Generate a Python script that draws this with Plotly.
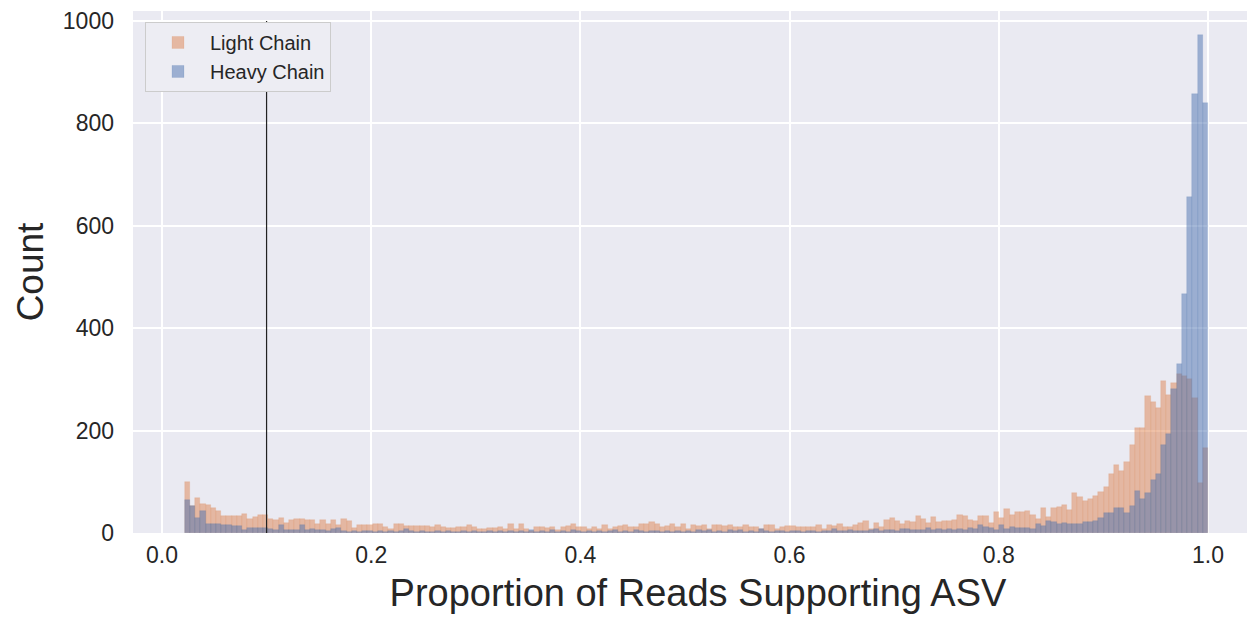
import numpy as np
import plotly.graph_objects as go

# Histogram bins (shared by both series)
BIN_START = 0.0217
BIN_END = 1.0
N_BINS = 196

light_chain = [
    100, 52, 69, 56, 55, 48, 42, 34, 33, 33,
    33, 38, 27, 31, 36, 36, 28, 25, 29, 19,
    25, 27, 27, 25, 26, 17, 25, 18, 25, 16,
    27, 23, 10, 15, 16, 15, 17, 18, 12, 8,
    17, 18, 13, 13, 13, 13, 13, 12, 16, 12,
    10, 10, 12, 12, 16, 12, 8, 7, 10, 10,
    12, 8, 17, 8, 18, 8, 4, 11, 11, 9,
    11, 6, 12, 14, 18, 12, 11, 8, 11, 8,
    16, 8, 11, 14, 15, 12, 11, 18, 18, 22,
    17, 12, 14, 18, 12, 18, 8, 16, 14, 16,
    8, 15, 15, 14, 15, 12, 11, 15, 12, 11,
    8, 15, 15, 8, 12, 14, 14, 12, 12, 12,
    11, 15, 8, 15, 14, 18, 12, 11, 15, 20,
    24, 8, 19, 11, 26, 29, 24, 18, 24, 22,
    33, 28, 19, 32, 22, 24, 24, 26, 35, 33,
    26, 24, 34, 33, 19, 41, 29, 46, 35, 41,
    41, 42, 35, 28, 49, 31, 49, 51, 54, 44,
    78, 71, 62, 67, 72, 81, 89, 115, 132, 122,
    139, 171, 205, 205, 267, 255, 245, 297, 270, 292,
    310, 306, 300, 264, 98, 166,
]

heavy_chain = [
    65, 53, 29, 42, 17, 18, 18, 16, 15, 13,
    13, 6, 10, 10, 10, 10, 8, 5, 15, 6,
    6, 6, 15, 6, 8, 5, 5, 4, 8, 10,
    3, 2, 3, 2, 4, 3, 2, 3, 2, 3,
    2, 3, 8, 3, 2, 3, 2, 2, 3, 2,
    3, 2, 2, 3, 2, 3, 2, 2, 3, 2,
    3, 2, 4, 2, 3, 2, 6, 2, 3, 2,
    6, 2, 3, 2, 6, 3, 2, 3, 2, 3,
    2, 3, 6, 2, 3, 2, 5, 3, 2, 3,
    4, 2, 3, 2, 3, 2, 3, 2, 6, 3,
    5, 2, 3, 2, 6, 3, 5, 2, 3, 2,
    7, 3, 2, 3, 3, 2, 4, 3, 2, 3,
    3, 2, 3, 3, 7, 3, 4, 6, 3, 4,
    3, 5, 8, 4, 6, 5, 4, 7, 8, 5,
    6, 5, 10, 6, 7, 5, 7, 6, 8, 6,
    10, 7, 15, 11, 9, 6, 15, 8, 12, 10,
    10, 10, 8, 18, 13, 23, 21, 17, 19, 17,
    17, 18, 22, 21, 24, 29, 40, 40, 48, 48,
    39, 53, 83, 67, 78, 104, 116, 171, 193, 282,
    330, 467, 657, 858, 973, 840,
]

threshold = 0.1
threshold_top = 1000
x_ticks = [0.0, 0.2, 0.4, 0.6, 0.8, 1.0]
y_ticks = [0, 200, 400, 600, 800, 1000]

assert len(light_chain) == N_BINS and len(heavy_chain) == N_BINS

edges = np.linspace(BIN_START, BIN_END, N_BINS + 1)
centers = (edges[:-1] + edges[1:]) / 2
bw = edges[1] - edges[0]

FONT = "Liberation Sans, Arial, Helvetica, sans-serif"
TXT = "#262626"

fig = go.Figure()
fig.add_trace(go.Bar(
    x=centers, y=light_chain, width=bw, name="Light Chain",
    marker=dict(color="rgba(221,132,82,0.5)",
                line=dict(color="rgba(221,132,82,0.25)", width=0.6)),
))
fig.add_trace(go.Bar(
    x=centers, y=heavy_chain, width=bw, name="Heavy Chain",
    marker=dict(color="rgba(76,114,176,0.5)",
                line=dict(color="rgba(76,114,176,0.25)", width=0.6)),
))
# threshold marker (drawn as a trace so the legend box covers it)
fig.add_trace(go.Scatter(
    x=[threshold, threshold], y=[0, threshold_top], mode="lines",
    line=dict(color="#222222", width=1.2), showlegend=False, hoverinfo="skip",
))

fig.update_layout(
    width=1255, height=619,
    margin=dict(l=125, r=0, t=0, b=94),
    barmode="overlay", bargap=0,
    paper_bgcolor="white", plot_bgcolor="#EAEAF2",
    font=dict(family=FONT, color=TXT, size=23),
    showlegend=True,
    legend=dict(
        x=0.0106, y=0.979, xanchor="left", yanchor="top",
        bgcolor="#EDEDF3", bordercolor="#CCCCCC", borderwidth=1,
        font=dict(size=20, color=TXT, family=FONT),
        itemwidth=54, tracegroupgap=4,
    ),
    xaxis=dict(
        range=[-0.0277, 1.0526], tickvals=x_ticks, tickformat=".1f",
        showgrid=True, gridcolor="white", gridwidth=1.8,
        zeroline=False, showline=False, ticks="",
        tickfont=dict(size=23, color=TXT),
        ticklabelstandoff=6, ticklabeloverflow="allow",
        title=dict(text="Proportion of Reads Supporting ASV",
                   font=dict(size=38, color=TXT), standoff=12),
    ),
    yaxis=dict(
        range=[0, 1019.4], tickvals=y_ticks,
        showgrid=True, gridcolor="white", gridwidth=1.8,
        zeroline=False, showline=False, ticks="",
        tickfont=dict(size=23, color=TXT),
        ticklabelstandoff=18, ticklabeloverflow="allow",
        title=dict(text="Count", font=dict(size=37, color=TXT), standoff=7),
    ),
)

fig.write_html("out.html")
